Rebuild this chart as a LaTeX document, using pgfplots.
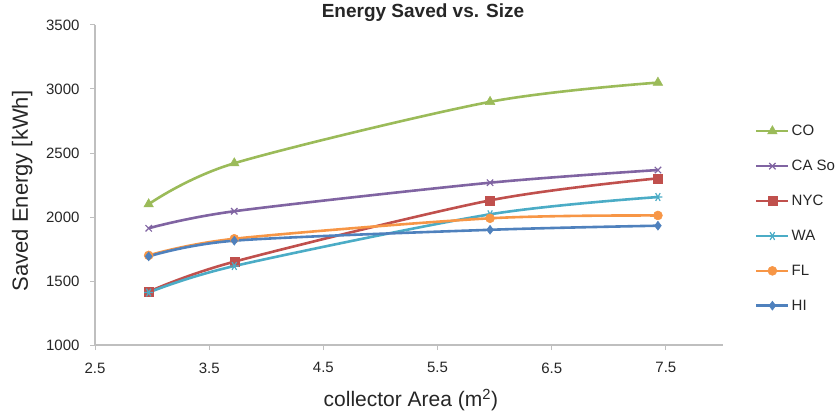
\documentclass[border=0pt]{standalone}
\usepackage{pgfplots}
\pgfplotsset{compat=1.18}
\usepackage{fontspec}
\setmainfont{Liberation Sans}
\definecolor{cHI}{HTML}{4F81BD}
\definecolor{cNYC}{HTML}{C0504D}
\definecolor{cCO}{HTML}{9BBB59}
\definecolor{cCA}{HTML}{8064A2}
\definecolor{cWA}{HTML}{4BACC6}
\definecolor{cFL}{HTML}{F79646}
\definecolor{axgray}{HTML}{BFBFBF}
\definecolor{txt}{HTML}{262626}
\begin{document}
\begin{tikzpicture}[x=1pt,y=1pt]
\useasboundingbox (0,0) rectangle (838,410);
\begin{axis}[
  at={(95pt,65pt)}, anchor=south west,
  scale only axis, width=628pt, height=320pt,
  xmin=2.5, xmax=8, ymin=1000, ymax=3500,
  xtick={2.5,3.5,4.5,5.5,6.5,7.5},
  ytick={1000,1500,2000,2500,3000,3500},
  scaled ticks=false,
  /pgf/number format/1000 sep={},
  /pgf/number format/assume math mode=true,
  axis lines*=left,
  axis line style={axgray, line width=1.2pt},
  tick style={axgray, line width=1pt},
  major tick length=5pt,
  tick align=outside,
  ticklabel style={font=\fontsize{15}{17}\selectfont, text=txt},
  xticklabel style={yshift=-9pt},
  yticklabel style={xshift=-7pt},
  xlabel={collector Area (m\textsuperscript{2})},
  ylabel={Saved Energy [kWh]},
  label style={font=\fontsize{21}{23}\selectfont, text=txt},
  xlabel style={at={(axis description cs:0.503,-0.172)}, anchor=center},
  ylabel style={at={(axis description cs:-0.116,0.481)}, anchor=center, font=\fontsize{22}{24}\selectfont},
  every axis plot/.append style={line width=2.6pt, smooth, tension=0.5},
  legend style={at={(1.046,0.70)}, anchor=north west, draw=none, fill=none,
    font=\fontsize{15}{17}\selectfont, text=txt, row sep=19pt,
    /tikz/every even column/.append style={column sep=2pt}},
  legend cell align=left,
  legend image code/.code={
    \draw[mark repeat=2, mark phase=2, sharp plot] plot coordinates {(0pt,0pt) (16pt,0pt) (32pt,0pt)};},
]
\addplot[cCO, mark=triangle*, mark size=5.5pt, mark options={solid, fill=cCO, line width=0.5pt}]
  coordinates {(2.97,2100) (3.72,2420) (5.96,2900) (7.43,3050)};
\addlegendentry{CO}
\addplot[cCA, mark=x, mark size=4.5pt, mark options={solid, line width=1.2pt}]
  coordinates {(2.97,1912) (3.72,2045) (5.96,2268) (7.43,2367)};
\addlegendentry{CA So}
\addplot[cNYC, mark=square*, mark size=4.5pt, mark options={solid, fill=cNYC, line width=0.5pt}]
  coordinates {(2.97,1416) (3.72,1651) (5.96,2130) (7.43,2302)};
\addlegendentry{NYC}
\addplot[cWA, mark=asterisk, mark size=4.5pt, mark options={solid, line width=1.2pt, rotate=90}]
  coordinates {(2.97,1410) (3.72,1617) (5.96,2021) (7.43,2156)};
\addlegendentry{WA}
\addplot[cFL, mark=*, mark size=4.5pt, mark options={solid, fill=cFL, line width=0.5pt}]
  coordinates {(2.97,1700) (3.72,1830) (5.96,1990) (7.43,2012)};
\addlegendentry{FL}
\addplot[cHI, mark=diamond*, mark size=4.5pt, mark options={solid, fill=cHI, line width=0.5pt}]
  coordinates {(2.97,1692) (3.72,1815) (5.96,1900) (7.43,1932)};
\addlegendentry{HI}
\end{axis}
\node[font=\bfseries\fontsize{19}{21}\selectfont, text=txt] at (423,397) {Energy Saved vs. Size};
\end{tikzpicture}
\end{document}
